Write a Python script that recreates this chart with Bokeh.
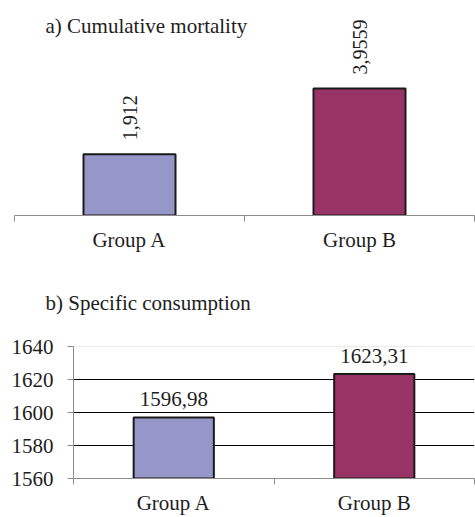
import math
from bokeh.plotting import figure
from bokeh.models import Range1d, FixedTicker, Label, Span, ColumnDataSource, Title
from bokeh.layouts import column
from bokeh.embed import file_html
from bokeh.resources import INLINE
from bokeh.core.properties import value

# ---- data ----
groups = ["Group A", "Group B"]
mortality = [1.912, 3.9559]
consumption = [1596.98, 1623.31]
bar_colors = ["#9696C8", "#993366"]
cons_ticks = [1560, 1580, 1600, 1620, 1640]
title_a = "a) Cumulative mortality"
title_b = "b) Specific consumption"

FONT = "'Liberation Serif', 'Times New Roman', serif"
TXT = "#1e1e1e"
AX = "#8c8c8c"


def fmt(v):
    return str(v).replace(".", ",")


xs = [i + 0.5 for i in range(len(groups))]
bounds = list(range(len(groups) + 1))
overrides = {x: g for x, g in zip(xs, groups)}


def style_xaxis(ax):
    ax.ticker = FixedTicker(ticks=xs, minor_ticks=bounds)
    ax.major_label_overrides = overrides
    ax.major_tick_line_color = None
    ax.minor_tick_line_color = AX
    ax.minor_tick_out = 6
    ax.minor_tick_in = 0
    ax.axis_line_color = AX
    ax.major_label_standoff = 6
    ax.major_label_text_font = FONT
    ax.major_label_text_font_size = "21px"
    ax.major_label_text_color = TXT


# ---- a) cumulative mortality ----
p1 = figure(width=475, height=256, output_backend="svg", toolbar_location=None,
            x_range=Range1d(0, len(groups)), y_range=Range1d(0, 6.70),
            y_axis_location=None,
            min_border_left=14, min_border_right=1, min_border_top=0, min_border_bottom=41)
p1.frame_align = False
p1.outline_line_color = None
p1.grid.visible = False
style_xaxis(p1.xaxis[0])

src1 = ColumnDataSource(dict(x=xs, top=mortality, color=bar_colors,
                             label=[fmt(v) for v in mortality]))
p1.vbar(x="x", top="top", bottom=0, width=0.4, fill_color="color",
        line_color="#1a1a1a", line_width=2, source=src1)
p1.text(x="x", y="top", text="label", angle=math.pi / 2, text_align="left",
        text_baseline="middle", y_offset=-14, text_font=value(FONT),
        text_font_size="20px", text_color=TXT, source=src1)
p1.add_layout(Label(x=31, y=190, x_units="screen", y_units="screen", text=title_a,
                    text_font=FONT, text_font_size="21px", text_color=TXT,
                    text_baseline="alphabetic"))

# ---- b) specific consumption ----
p2 = figure(width=475, height=261, output_backend="svg", toolbar_location=None,
            x_range=Range1d(0, len(groups)), y_range=Range1d(cons_ticks[0], cons_ticks[-1]),
            min_border_left=73, min_border_right=1, min_border_top=88, min_border_bottom=35)
p2.frame_align = False
p2.outline_line_color = None
p2.add_layout(Title(text=title_b, text_font=FONT, text_font_size="21px",
                    text_color=TXT, text_font_style="normal", align="left",
                    offset=-28, standoff=64), "above")
style_xaxis(p2.xaxis[0])
p2.xgrid.visible = False
p2.ygrid.ticker = FixedTicker(ticks=cons_ticks[1:-1])
p2.ygrid.grid_line_color = "black"
p2.ygrid.grid_line_width = 1
ya = p2.yaxis[0]
ya.ticker = FixedTicker(ticks=cons_ticks)
ya.axis_line_color = AX
ya.major_tick_line_color = AX
ya.major_tick_out = 6
ya.major_tick_in = 0
ya.minor_tick_line_color = None
ya.major_label_standoff = 14
ya.major_label_text_font = FONT
ya.major_label_text_font_size = "21px"
ya.major_label_text_color = TXT
p2.add_layout(Span(location=cons_ticks[-1], dimension="width",
                   line_color="#d8d8d8", line_width=1))

src2 = ColumnDataSource(dict(x=xs, top=consumption, color=bar_colors,
                             label=[fmt(v) for v in consumption]))
p2.vbar(x="x", top="top", bottom=cons_ticks[0], width=0.4, fill_color="color",
        line_color="#1a1a1a", line_width=2, source=src2)
p2.text(x="x", y="top", text="label", text_align="center",
        text_baseline="alphabetic", y_offset=-18, text_font=value(FONT),
        text_font_size="21px", text_color=TXT, source=src2)

layout = column(p1, p2, spacing=0)
open("out.html", "w").write(file_html(layout, INLINE))
